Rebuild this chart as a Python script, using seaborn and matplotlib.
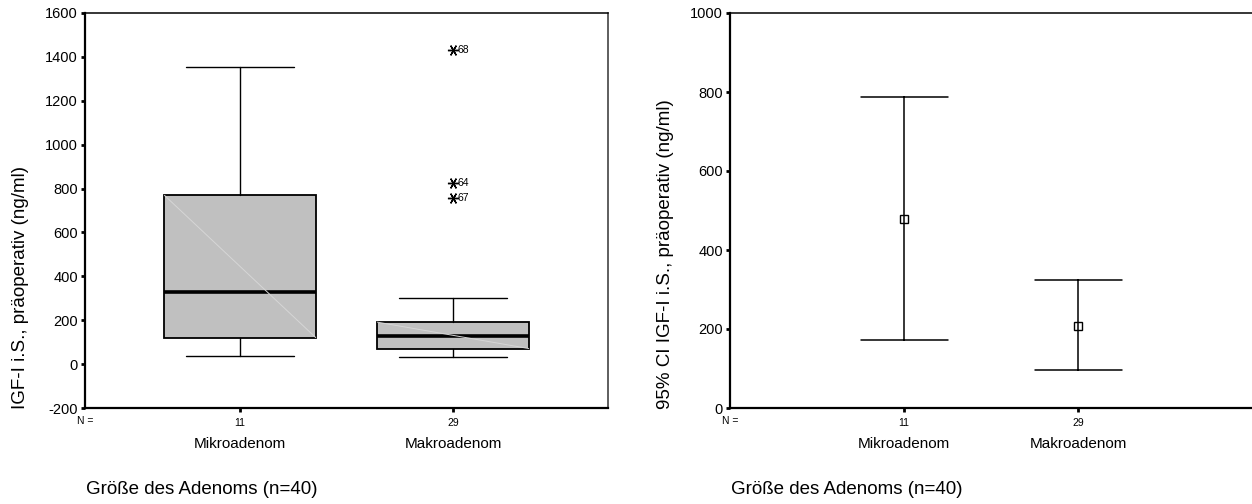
import numpy as np
import pandas as pd
import matplotlib
matplotlib.use("Agg")
import matplotlib.pyplot as plt
import matplotlib.transforms as mtransforms
import seaborn as sns

# ---- data -------------------------------------------------------------
groups = ["Mikroadenom", "Makroadenom"]
group_n = [11, 29]

# box plot summary (ng/ml)
whisker_low = [38, 33]
q1 = [121, 71]
median = [327, 126]
q3 = [769, 191]
whisker_high = [1352, 299]

# extreme values of the Makroadenom group with their case numbers
outlier_values = [1431, 825, 755]
outlier_cases = ["68", "64", "67"]

# mean with 95% confidence interval (ng/ml)
ci_lower = [171, 97]
mean_value = [479, 208]
ci_upper = [787, 325]

y_label_left = "IGF-I i.S., präoperativ (ng/ml)"
y_label_right = "95% CI IGF-I i.S., präoperativ (ng/ml)"
x_label = "Größe des Adenoms (n=40)"

# ---- style ------------------------------------------------------------
sns.set_theme(style="white")
plt.rcParams["font.family"] = ["Liberation Sans", "DejaVu Sans"]
plt.rcParams["axes.unicode_minus"] = False

LABEL_FS = 13.5
TICK_FS = 10.5
CAT_FS = 11
SMALL_FS = 7.5

W, H = 1252, 504
fig = plt.figure(figsize=(W / 100, H / 100), dpi=100)
fig.patch.set_facecolor("white")

ax1 = fig.add_axes([85 / W, 1 - 408 / H, (608 - 85) / W, (408 - 13) / H])
ax2 = fig.add_axes([730 / W, 1 - 408 / H, (1252 - 730) / W, (408 - 13) / H])


def style_axes(ax, right_spine=True):
    ax.set_facecolor("white")
    for side in ("left", "bottom"):
        ax.spines[side].set_linewidth(1.6)
        ax.spines[side].set_color("black")
    ax.spines["top"].set_linewidth(1.1)
    ax.spines["top"].set_color("black")
    if right_spine:
        ax.spines["right"].set_linewidth(1.1)
        ax.spines["right"].set_color("#333333")
    else:
        ax.spines["right"].set_visible(False)
    ax.tick_params(axis="y", direction="out", length=3, width=2, pad=2,
                   labelsize=TICK_FS, colors="black", left=True)
    ax.tick_params(axis="x", direction="out", length=3, width=2, pad=4,
                   labelsize=SMALL_FS, colors="black", bottom=True)
    ax.grid(False)


def category_text(ax, xlabel_left_px):
    trans = mtransforms.blended_transform_factory(ax.transData, fig.transFigure)
    for i, g in enumerate(groups):
        ax.text(i, 1 - 444 / H, g, transform=trans, ha="center", va="center",
                fontsize=CAT_FS, color="black")
    ax.text(ax.get_xlim()[0], 1 - 421 / H, "N =", transform=trans,
            ha="center", va="center", fontsize=SMALL_FS, color="black")
    fig.text(xlabel_left_px / W, 1 - 490 / H, x_label, ha="left",
             va="center", fontsize=LABEL_FS, color="black")


# ---- left: box plot -----------------------------------------------------
box_width = 0.71
stats = []
for i, g in enumerate(groups):
    stats.append(dict(label=g, whislo=whisker_low[i], q1=q1[i], med=median[i],
                      q3=q3[i], whishi=whisker_high[i], fliers=[]))
ax1.bxp(stats, positions=[0, 1], widths=box_width, patch_artist=True,
        showfliers=False,
        boxprops=dict(facecolor="#c0c0c0", edgecolor="black", linewidth=1.3),
        medianprops=dict(color="black", linewidth=2.6),
        whiskerprops=dict(color="black", linewidth=1.0),
        capprops=dict(color="black", linewidth=1.0),
        capwidths=0.51)

# faint diagonal rendered across each box
for i in range(len(groups)):
    ax1.plot([i - box_width / 2, i + box_width / 2], [q3[i], q1[i]],
             color="#d6d6d6", linewidth=0.7, zorder=2.5)

# extreme values
ax1.plot([1] * len(outlier_values), outlier_values, linestyle="none",
         marker=(6, 2, 90), markersize=8, markeredgewidth=1.0,
         color="black", zorder=4)
for v, c in zip(outlier_values, outlier_cases):
    ax1.annotate(c, (1, v), xytext=(3, 0), textcoords="offset points",
                 ha="left", va="center", fontsize=SMALL_FS, color="black")

ax1.set_xlim(-0.728, 1.727)
ax1.set_ylim(-200, 1600)
ax1.set_yticks(np.arange(-200, 1601, 200))
ax1.set_xticks([0, 1])
ax1.set_xticklabels([str(n) for n in group_n])
ax1.set_xlabel("")
ax1.set_ylabel("")
style_axes(ax1, right_spine=True)
category_text(ax1, 86)
fig.text(21 / W, 1 - 409 / H, y_label_left, rotation=90, ha="center",
         va="bottom", fontsize=LABEL_FS, color="black")

# ---- right: mean with 95% CI ---------------------------------------------
ci_frame = pd.DataFrame({
    "group": np.repeat(groups, 3),
    "value": np.ravel(np.column_stack([ci_lower, mean_value, ci_upper])),
})
sns.pointplot(data=ci_frame, x="group", y="value", order=groups,
              estimator="median", errorbar=("pi", 100), capsize=0.5,
              color="black", markers="s", linestyles="none",
              markersize=6, markerfacecolor="none", markeredgewidth=1.0,
              err_kws={"linewidth": 1.1}, ax=ax2)

ax2.set_xlim(-1.0, 2.0)
ax2.set_ylim(0, 1000)
ax2.set_yticks(np.arange(0, 1001, 200))
ax2.set_xticks([0, 1])
ax2.set_xticklabels([str(n) for n in group_n])
ax2.set_xlabel("")
ax2.set_ylabel("")
style_axes(ax2, right_spine=False)
category_text(ax2, 731)
fig.text(665 / W, 1 - 409 / H, y_label_right, rotation=90, ha="center",
         va="bottom", fontsize=LABEL_FS, color="black")

fig.savefig("out.png", dpi=100, facecolor="white")
